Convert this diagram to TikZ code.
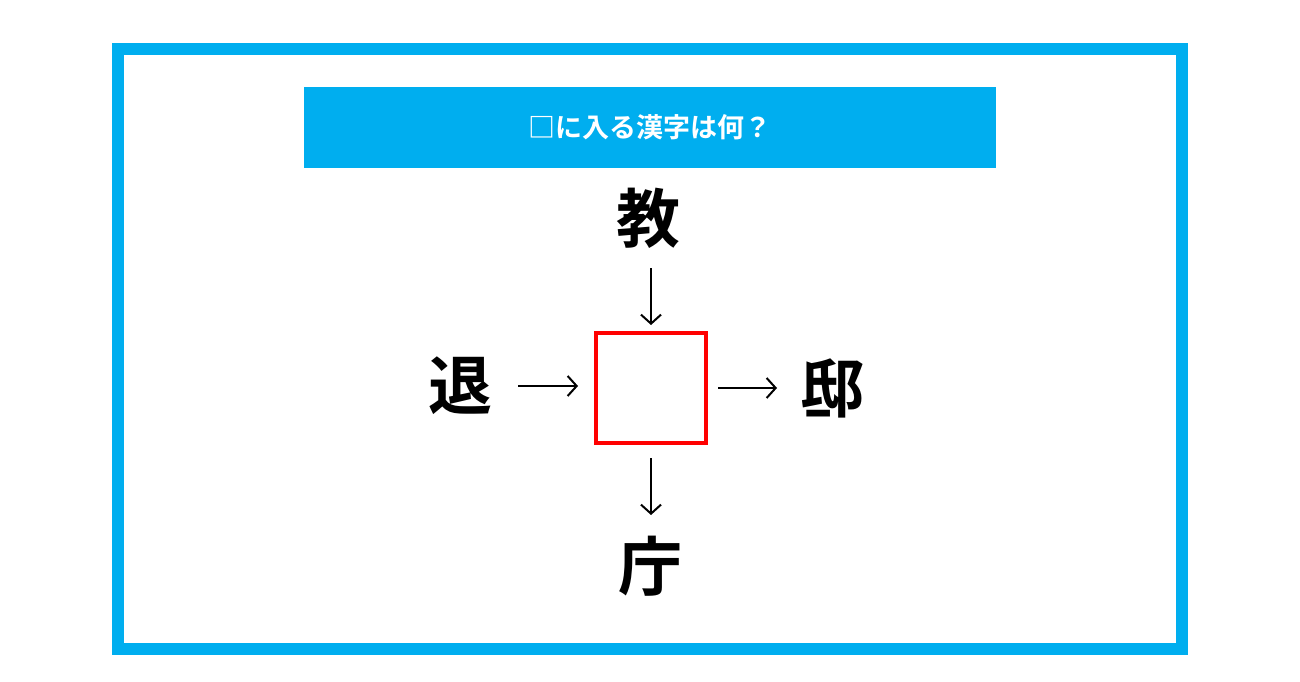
\documentclass[tikz,border=0pt]{standalone}
\usepackage{fontspec}
\usetikzlibrary{arrows.meta}
\newfontfamily\cjk{Noto Sans CJK JP Bold}
\definecolor{sky}{RGB}{0,174,239}
\begin{document}
\begin{tikzpicture}[x=1pt,y=-1pt,
  big/.style={font=\cjk\fontsize{64}{64}\selectfont,inner sep=0pt},
  arr/.style={-{Straight Barb[length=9pt,width=20pt,line width=2pt]},line width=2pt}]
\useasboundingbox (0,0) rectangle (1300,682);
\fill[white] (0,0) rectangle (1300,682);
\draw[sky,line width=12pt] (118,49) rectangle (1182,649);
\node[fill=sky,minimum width=692pt,minimum height=81pt,inner sep=0pt,text=white,font=\cjk\fontsize{27}{27}\selectfont] (title) at (650,127.5) {□に入る漢字は何？};
\node[draw=red,line width=3.5pt,minimum width=110pt,minimum height=110pt,inner sep=0pt] (box) at (651,388) {};
\node[big] (t) at (648,218) {教};
\node[big] (l) at (460,386) {退};
\node[big] (r) at (832,388) {邸};
\node[big] (b) at (650,566) {庁};
\coordinate (t1) at (651,268); \coordinate (t2) at (651,325);
\coordinate (b1) at (651,458); \coordinate (b2) at (651,515);
\coordinate (l1) at (518,386); \coordinate (l2) at (578,386);
\coordinate (r1) at (718,388); \coordinate (r2) at (777,388);
\draw[arr] (t1) -- (t2);
\draw[arr] (b1) -- (b2);
\draw[arr] (l1) -- (l2);
\draw[arr] (r1) -- (r2);
\end{tikzpicture}
\end{document}
